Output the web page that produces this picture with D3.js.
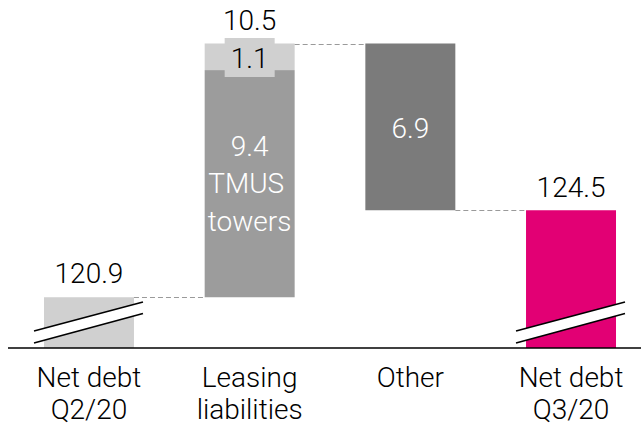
<!DOCTYPE html>
<html>
<head>
<meta charset="utf-8">
<script src="https://cdn.jsdelivr.net/npm/d3@7"></script>
<style>
  html, body { margin: 0; padding: 0; background: #fff; }
  svg { display: block; }
  text { font-family: Roboto, "Open Sans", sans-serif; font-weight: 300; }
</style>
</head>
<body>
<svg id="chart" width="641" height="429"></svg>
<script>
// ---- data ----
const categories = ["Net debt Q2/20", "Leasing liabilities", "Other", "Net debt Q3/20"];
const categoryLines = [["Net debt", "Q2/20"], ["Leasing", "liabilities"], ["Other"], ["Net debt", "Q3/20"]];
const startValue = 120.9;
const leasingParts = [9.4, 1.1];          // TMUS towers, rest
const leasingTotal = 10.5;
const otherChange = -6.9;
const endValue = 124.5;
const leasingPartLabels = [["9.4", "TMUS ", "towers"], ["1.1"]];
const valueLabels = ["120.9", "10.5", "6.9", "124.5"];
const axisBase = 118.8;                   // value at broken axis baseline

// ---- layout ----
const W = 641, H = 429;
const baseY = 348;
const svg = d3.select("#chart");

const x = d3.scaleBand()
  .domain(categories)
  .range([8, 652])
  .paddingInner(0.44)
  .paddingOuter(0.224);

const y = d3.scaleLinear()
  .domain([axisBase, startValue + leasingTotal])
  .range([baseY, 43.5]);

const colors = {
  start: "#d0d0d0",
  leasingMain: "#9c9c9c",
  leasingTop: "#d0d0d0",
  other: "#7b7b7b",
  end: "#e20074",
  dash: "#9a9a9a"
};

const bw = x.bandwidth();

const afterLeasing = startValue + leasingTotal;
const afterOther = afterLeasing + otherChange;
const bars = [
  { cat: categories[0], y0: axisBase, y1: startValue, fill: colors.start },
  { cat: categories[1], y0: startValue, y1: startValue + leasingParts[0], fill: colors.leasingMain },
  { cat: categories[1], y0: startValue + leasingParts[0], y1: afterLeasing, fill: colors.leasingTop },
  { cat: categories[2], y0: afterOther, y1: afterLeasing, fill: colors.other },
  { cat: categories[3], y0: axisBase, y1: endValue, fill: colors.end }
];

svg.selectAll("rect.bar").data(bars).enter().append("rect")
  .attr("class", "bar")
  .attr("x", d => x(d.cat))
  .attr("width", bw)
  .attr("y", d => y(d.y1))
  .attr("height", d => y(d.y0) - y(d.y1))
  .attr("fill", d => d.fill);

const connectors = [
  { from: categories[0], to: categories[1], v: startValue },
  { from: categories[1], to: categories[2], v: afterLeasing },
  { from: categories[2], to: categories[3], v: afterOther }
];
svg.selectAll("line.conn").data(connectors).enter().append("line")
  .attr("x1", d => x(d.from) + bw)
  .attr("x2", d => x(d.to))
  .attr("y1", d => Math.round(y(d.v)) + 0.5)
  .attr("y2", d => Math.round(y(d.v)) + 0.5)
  .attr("stroke", colors.dash)
  .attr("stroke-width", 1)
  .attr("stroke-dasharray", "5,3");

svg.append("line")
  .attr("x1", 8).attr("x2", W)
  .attr("y1", baseY).attr("y2", baseY)
  .attr("stroke", "#000").attr("stroke-width", 1.5);

[categories[0], categories[3]].forEach(c => {
  const xl = x(c) - 10, xr = x(c) + bw + 9;
  const g = svg.append("g");
  g.append("polygon")
    .attr("points", `${xl},${331} ${xr},${302} ${xr},${313.5} ${xl},${343}`)
    .attr("fill", "#fff");
  g.append("line").attr("x1", xl).attr("y1", 331).attr("x2", xr).attr("y2", 302)
    .attr("stroke", "#000").attr("stroke-width", 1.6);
  g.append("line").attr("x1", xl).attr("y1", 343).attr("x2", xr).attr("y2", 313.5)
    .attr("stroke", "#000").attr("stroke-width", 1.6);
});

const fs = 28;
const cx = c => x(c) + bw / 2;

svg.append("text").attr("x", cx(categories[0])).attr("y", 283)
  .attr("text-anchor", "middle").attr("font-size", fs).attr("fill", "#000").text(valueLabels[0]);
svg.append("text").attr("x", cx(categories[1])).attr("y", 30)
  .attr("text-anchor", "middle").attr("font-size", fs).attr("fill", "#000").text(valueLabels[1]);
svg.append("text").attr("x", cx(categories[3])).attr("y", 197)
  .attr("text-anchor", "middle").attr("font-size", fs).attr("fill", "#000").text(valueLabels[3]);

svg.append("rect")
  .attr("x", cx(categories[1]) - 25).attr("width", 50)
  .attr("y", 38).attr("height", 39)
  .attr("fill", colors.leasingTop);
svg.append("text").attr("x", cx(categories[1])).attr("y", 68)
  .attr("text-anchor", "middle").attr("font-size", fs).attr("fill", "#000").text(leasingPartLabels[1][0]);

const innerY = [156, 193, 231];
leasingPartLabels[0].forEach((t, i) => {
  svg.append("text").attr("x", cx(categories[1])).attr("y", innerY[i])
    .attr("text-anchor", "middle").attr("font-size", fs).attr("fill", "#fff")
    .style("white-space", "pre").text(t);
});

svg.append("text").attr("x", cx(categories[2])).attr("y", 138)
  .attr("text-anchor", "middle").attr("font-size", fs).attr("fill", "#fff").text(valueLabels[2]);

categoryLines.forEach((lines, i) => {
  lines.forEach((t, j) => {
    svg.append("text").attr("x", cx(categories[i])).attr("y", 387 + j * 32)
      .attr("text-anchor", "middle").attr("font-size", fs).attr("fill", "#000").text(t);
  });
});
</script>
</body>
</html>
